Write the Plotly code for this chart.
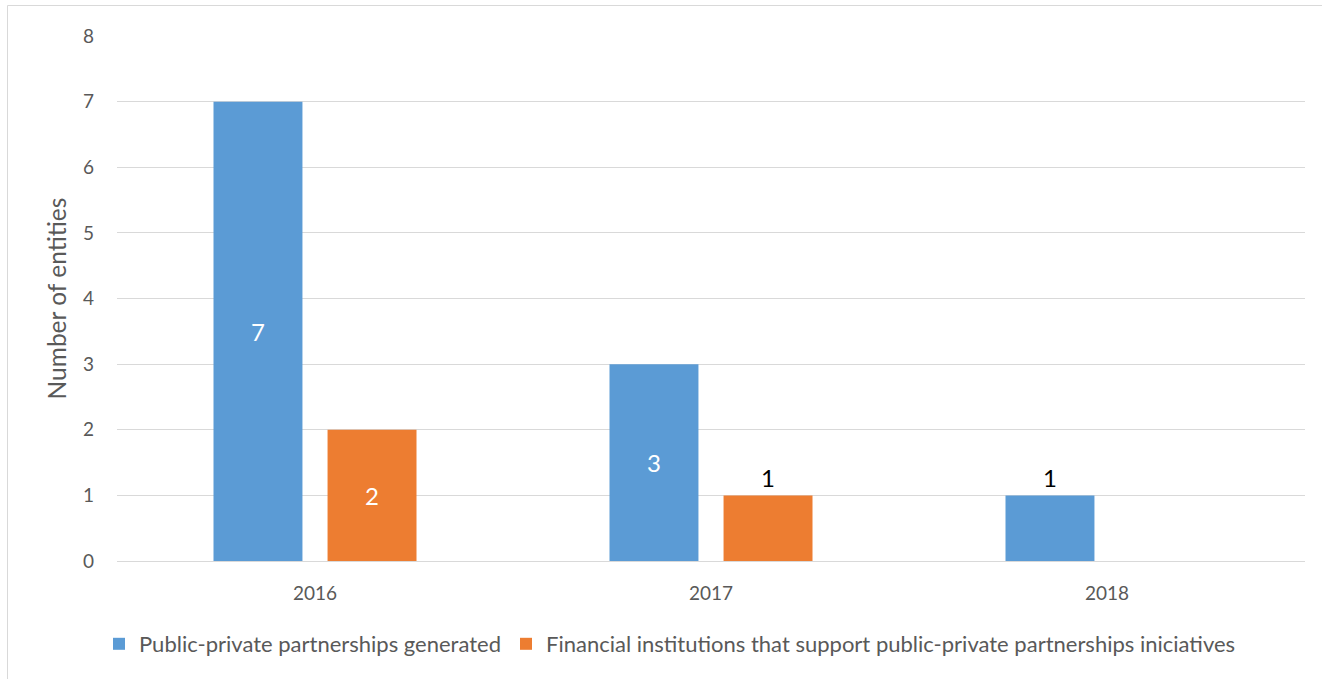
import plotly.graph_objects as go

years = ["2016", "2017", "2018"]
ppp_generated = [7, 3, 1]
financial_institutions = [2, 1, None]

series_names = [
    "Public-private partnerships generated",
    "Financial institutions that support public-private partnerships iniciatives",
]

W, H = 1322, 679
ML, MR, MT, MB = 117, 17, 36, 118
PW, PH = W - ML - MR, H - MT - MB
FONT = "Lato, sans-serif"


def label_style(values):
    # Tall bars get a white label inside, short ones a dark label on top
    pos, col = [], []
    for v in values:
        if v is not None and v >= 2:
            pos.append("inside")
            col.append("white")
        else:
            pos.append("outside")
            col.append("black")
    return pos, col


fig = go.Figure()
for name, vals, color in [
    (series_names[0], ppp_generated, "#5b9bd5"),
    (series_names[1], financial_institutions, "#ed7d31"),
]:
    pos, col = label_style(vals)
    fig.add_trace(go.Bar(
        x=years, y=vals, name=name,
        marker=dict(color=color, line=dict(width=0)),
        text=[("" if v is None else str(v)) for v in vals],
        textposition=pos,
        insidetextanchor="middle",
        textfont=dict(color=col, size=24, family=FONT),
        cliponaxis=False,
    ))


def px_x(p):
    return (p - ML) / PW


def px_y(p):
    return (H - MB - p) / PH


# Outer chart frame (left and top edges)
frame = dict(color="#d9d9d9", width=1)
fig.add_shape(type="line", xref="paper", yref="paper",
              x0=px_x(7.5), x1=px_x(1330), y0=px_y(5.5), y1=px_y(5.5), line=frame)
fig.add_shape(type="line", xref="paper", yref="paper",
              x0=px_x(7.5), x1=px_x(7.5), y0=px_y(5.5), y1=px_y(690), line=frame)

fig.update_layout(
    width=W, height=H,
    margin=dict(l=ML, r=MR, t=MT, b=MB),
    paper_bgcolor="white", plot_bgcolor="white",
    barmode="group", bargap=0.424, bargroupgap=0.22,
    font=dict(family=FONT, color="#595959", size=19),
    xaxis=dict(
        showgrid=False, showline=False, ticks="",
        tickfont=dict(size=19, color="#595959"),
        ticklabelstandoff=19,
    ),
    yaxis=dict(
        range=[0, 8], dtick=1, showline=False, ticks="",
        gridcolor="#d9d9d9", gridwidth=1, zeroline=True,
        zerolinecolor="#d9d9d9", zerolinewidth=1,
        tickfont=dict(size=19, color="#595959"),
        ticklabelstandoff=22,
        title=dict(text="Number of entities", font=dict(size=24.5, color="#595959"),
                   standoff=9),
    ),
    legend=dict(
        orientation="h", x=px_x(99), xanchor="left", y=px_y(644), yanchor="middle",
        font=dict(size=22, color="#595959"),
        itemwidth=30, traceorder="normal",
    ),
    showlegend=True,
)

fig.write_html("out.html")
